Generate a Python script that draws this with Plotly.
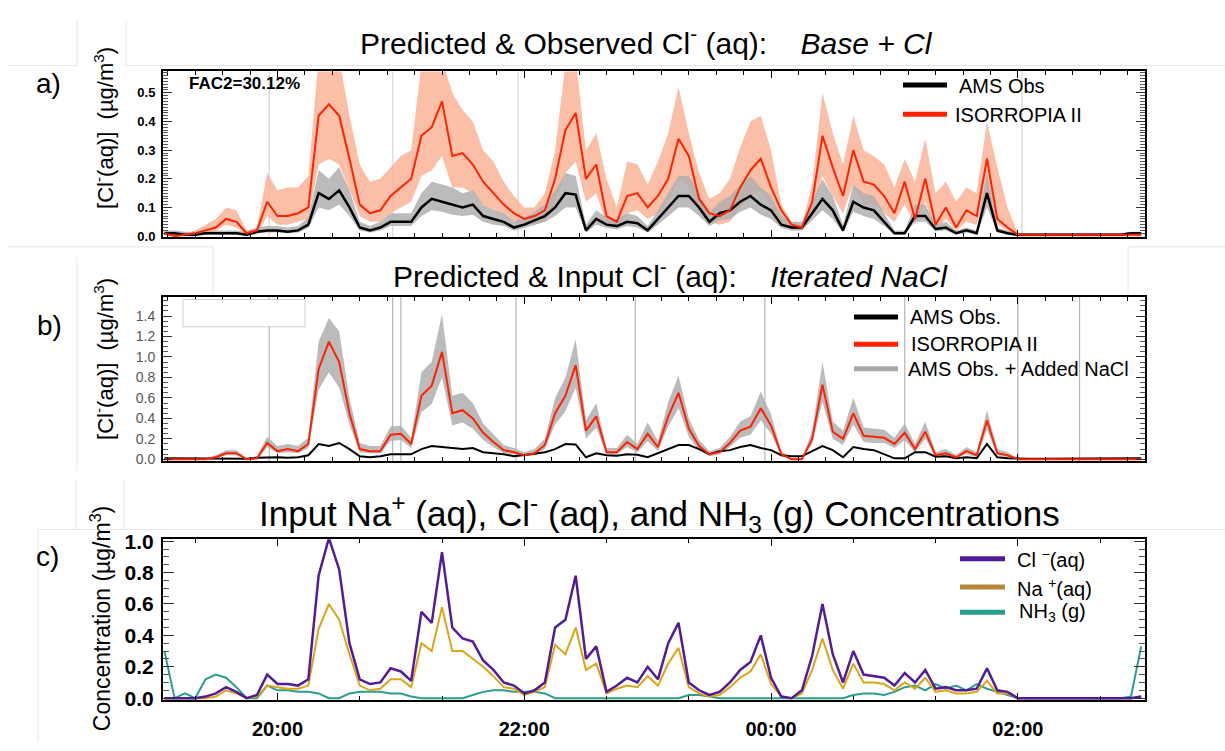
import pandas as pd
import plotly.graph_objects as go

# ---------------- data (5-minute grid starting 19:05) ----------------
t_start = "2000-01-01 19:05"
n_pts = 96
times = pd.date_range(t_start, periods=n_pts, freq="5min")

# Panel a: Base + Cl
obs_a = [0.01, 0.01, 0.005, 0.005, 0.01, 0.01, 0.01, 0.01, 0.005, 0.015, 0.02, 0.02,
         0.015, 0.02, 0.04, 0.15, 0.13, 0.16, 0.10, 0.03, 0.02, 0.03, 0.05, 0.05,
         0.05, 0.10, 0.13, 0.12, 0.11, 0.10, 0.11, 0.07, 0.06, 0.05, 0.03, 0.04,
         0.055, 0.07, 0.10, 0.15, 0.145, 0.02, 0.06, 0.04, 0.035, 0.05, 0.045, 0.02,
         0.06, 0.10, 0.14, 0.14, 0.10, 0.05, 0.08, 0.09, 0.12, 0.14, 0.11, 0.09,
         0.04, 0.03, 0.03, 0.08, 0.13, 0.09, 0.02, 0.12, 0.10, 0.09, 0.05, 0.01,
         0.01, 0.07, 0.07, 0.025, 0.03, 0.01, 0.02, 0.01, 0.15, 0.02, 0.01, 0.005,
         0.005, 0.005, 0.005, 0.005, 0.005, 0.005, 0.005, 0.005, 0.005, 0.005, 0.01, 0.01]
obs_a_hi = [0.02, 0.02, 0.015, 0.015, 0.02, 0.02, 0.02, 0.02, 0.015, 0.03, 0.035, 0.035,
            0.03, 0.035, 0.065, 0.23, 0.20, 0.24, 0.16, 0.05, 0.035, 0.05, 0.08, 0.08,
            0.08, 0.15, 0.19, 0.18, 0.17, 0.15, 0.16, 0.11, 0.09, 0.08, 0.05, 0.065,
            0.085, 0.11, 0.16, 0.22, 0.21, 0.04, 0.09, 0.065, 0.06, 0.08, 0.07, 0.035,
            0.09, 0.15, 0.21, 0.21, 0.15, 0.08, 0.12, 0.14, 0.18, 0.21, 0.17, 0.14,
            0.07, 0.05, 0.05, 0.12, 0.20, 0.14, 0.04, 0.18, 0.15, 0.14, 0.08, 0.02,
            0.02, 0.11, 0.11, 0.04, 0.05, 0.02, 0.03, 0.02, 0.22, 0.03, 0.02, 0.01,
            0.01, 0.01, 0.01, 0.01, 0.01, 0.01, 0.01, 0.01, 0.01, 0.01, 0.015, 0.015]
obs_a_lo = [0.005, 0.005, 0.0, 0.0, 0.005, 0.005, 0.005, 0.005, 0.0, 0.01, 0.013, 0.013,
            0.01, 0.013, 0.028, 0.10, 0.09, 0.11, 0.07, 0.02, 0.013, 0.02, 0.035, 0.035,
            0.035, 0.07, 0.09, 0.085, 0.075, 0.07, 0.075, 0.05, 0.04, 0.035, 0.02, 0.028,
            0.038, 0.05, 0.07, 0.10, 0.10, 0.013, 0.04, 0.028, 0.024, 0.035, 0.03, 0.013,
            0.04, 0.07, 0.10, 0.10, 0.07, 0.035, 0.055, 0.06, 0.085, 0.10, 0.075, 0.06,
            0.028, 0.02, 0.02, 0.055, 0.09, 0.06, 0.013, 0.085, 0.07, 0.06, 0.035, 0.005,
            0.005, 0.05, 0.05, 0.017, 0.02, 0.005, 0.013, 0.005, 0.10, 0.013, 0.005, 0.0,
            0.0, 0.0, 0.0, 0.0, 0.0, 0.0, 0.0, 0.0, 0.0, 0.0, 0.0, 0.0]
iso_a = [0.01, 0.0, 0.005, 0.01, 0.02, 0.03, 0.06, 0.05, 0.01, 0.02, 0.12, 0.07,
         0.07, 0.08, 0.10, 0.42, 0.46, 0.42, 0.27, 0.11, 0.08, 0.09, 0.14, 0.17,
         0.20, 0.35, 0.38, 0.47, 0.28, 0.29, 0.25, 0.19, 0.15, 0.11, 0.08, 0.06,
         0.07, 0.09, 0.20, 0.37, 0.43, 0.20, 0.25, 0.07, 0.05, 0.14, 0.15, 0.10,
         0.14, 0.20, 0.34, 0.28, 0.13, 0.08, 0.07, 0.09, 0.17, 0.23, 0.27, 0.17,
         0.09, 0.04, 0.03, 0.12, 0.35, 0.24, 0.14, 0.30, 0.19, 0.18, 0.14, 0.08,
         0.19, 0.06, 0.20, 0.04, 0.10, 0.03, 0.09, 0.07, 0.27, 0.06, 0.03, 0.005,
         0.005, 0.005, 0.005, 0.005, 0.005, 0.005, 0.005, 0.005, 0.005, 0.005, 0.005, 0.005]
iso_a_hi = [0.02, 0.01, 0.01, 0.02, 0.04, 0.06, 0.10, 0.09, 0.02, 0.03, 0.22, 0.16,
            0.17, 0.17, 0.21, 0.62, 0.65, 0.62, 0.42, 0.25, 0.19, 0.20, 0.24, 0.28,
            0.30, 0.60, 0.62, 0.62, 0.50, 0.44, 0.40, 0.30, 0.26, 0.19, 0.14, 0.10,
            0.10, 0.15, 0.30, 0.60, 0.62, 0.30, 0.36, 0.20, 0.10, 0.26, 0.25, 0.18,
            0.26, 0.36, 0.52, 0.36, 0.22, 0.13, 0.15, 0.20, 0.31, 0.40, 0.42, 0.30,
            0.11, 0.05, 0.04, 0.18, 0.50, 0.36, 0.25, 0.42, 0.30, 0.28, 0.25, 0.17,
            0.27, 0.19, 0.34, 0.15, 0.19, 0.12, 0.17, 0.15, 0.40, 0.24, 0.10, 0.01,
            0.01, 0.01, 0.01, 0.01, 0.01, 0.01, 0.01, 0.01, 0.01, 0.01, 0.01, 0.01]
iso_a_lo = [0.005, 0.0, 0.0, 0.005, 0.01, 0.02, 0.04, 0.03, 0.005, 0.005, 0.07, 0.04,
            0.04, 0.05, 0.06, 0.25, 0.27, 0.25, 0.16, 0.07, 0.05, 0.05, 0.08, 0.10,
            0.12, 0.21, 0.23, 0.28, 0.17, 0.17, 0.15, 0.11, 0.09, 0.07, 0.05, 0.04,
            0.04, 0.05, 0.12, 0.22, 0.26, 0.12, 0.15, 0.04, 0.03, 0.08, 0.09, 0.06,
            0.08, 0.12, 0.20, 0.17, 0.08, 0.05, 0.04, 0.05, 0.10, 0.14, 0.16, 0.10,
            0.05, 0.02, 0.02, 0.07, 0.21, 0.14, 0.08, 0.18, 0.11, 0.11, 0.08, 0.05,
            0.11, 0.04, 0.12, 0.02, 0.06, 0.02, 0.05, 0.04, 0.16, 0.04, 0.02, 0.0,
            0.0, 0.0, 0.0, 0.0, 0.0, 0.0, 0.0, 0.0, 0.0, 0.0, 0.0, 0.0]

# Panel b: Iterated NaCl (AMS obs. reused from panel a)
iso_b = [0.0, 0.0, 0.0, 0.0, 0.0, 0.02, 0.06, 0.06, 0.0, 0.01, 0.16, 0.08,
         0.10, 0.08, 0.15, 0.88, 1.15, 0.95, 0.45, 0.10, 0.08, 0.08, 0.24, 0.25,
         0.15, 0.62, 0.72, 1.05, 0.45, 0.48, 0.40, 0.26, 0.17, 0.09, 0.07, 0.04,
         0.06, 0.14, 0.45, 0.62, 0.92, 0.28, 0.42, 0.07, 0.07, 0.17, 0.10, 0.25,
         0.12, 0.42, 0.65, 0.30, 0.13, 0.05, 0.07, 0.16, 0.28, 0.32, 0.50, 0.33,
         0.05, 0.0, 0.0, 0.20, 0.73, 0.27, 0.20, 0.45, 0.23, 0.22, 0.21, 0.15,
         0.26, 0.10, 0.27, 0.04, 0.06, 0.02, 0.08, 0.04, 0.38, 0.06, 0.04, 0.0,
         0.0, 0.0, 0.0, 0.0, 0.0, 0.0, 0.0, 0.0, 0.0, 0.0, 0.0, 0.0]
nacl_b_hi = [0.01, 0.01, 0.01, 0.01, 0.01, 0.04, 0.09, 0.09, 0.01, 0.03, 0.22, 0.13,
             0.15, 0.13, 0.21, 1.15, 1.38, 1.25, 0.60, 0.16, 0.13, 0.13, 0.32, 0.33,
             0.21, 0.85, 0.95, 1.42, 0.62, 0.65, 0.55, 0.35, 0.24, 0.14, 0.11, 0.07,
             0.10, 0.20, 0.60, 0.80, 1.17, 0.38, 0.55, 0.11, 0.11, 0.24, 0.15, 0.36,
             0.18, 0.56, 0.82, 0.40, 0.19, 0.08, 0.11, 0.22, 0.37, 0.42, 0.66, 0.44,
             0.08, 0.01, 0.01, 0.28, 0.95, 0.37, 0.28, 0.60, 0.31, 0.30, 0.29, 0.21,
             0.35, 0.15, 0.37, 0.07, 0.10, 0.04, 0.12, 0.07, 0.48, 0.10, 0.07, 0.01,
             0.01, 0.01, 0.01, 0.01, 0.01, 0.01, 0.01, 0.01, 0.01, 0.01, 0.01, 0.01]
nacl_b_lo = [0.0, 0.0, 0.0, 0.0, 0.0, 0.01, 0.04, 0.04, 0.0, 0.0, 0.12, 0.06,
             0.07, 0.06, 0.11, 0.68, 0.85, 0.70, 0.34, 0.07, 0.06, 0.06, 0.18, 0.19,
             0.11, 0.46, 0.54, 0.80, 0.33, 0.36, 0.30, 0.19, 0.12, 0.06, 0.05, 0.03,
             0.04, 0.10, 0.34, 0.47, 0.70, 0.20, 0.31, 0.05, 0.05, 0.12, 0.07, 0.18,
             0.08, 0.32, 0.50, 0.22, 0.09, 0.03, 0.05, 0.12, 0.21, 0.24, 0.38, 0.25,
             0.03, 0.0, 0.0, 0.15, 0.56, 0.20, 0.14, 0.34, 0.17, 0.16, 0.16, 0.11,
             0.19, 0.07, 0.20, 0.02, 0.04, 0.01, 0.05, 0.02, 0.29, 0.04, 0.02, 0.0,
             0.0, 0.0, 0.0, 0.0, 0.0, 0.0, 0.0, 0.0, 0.0, 0.0, 0.0, 0.0]

# Panel c: inputs
cl_c = [0.0, 0.0, 0.0, 0.0, 0.01, 0.03, 0.07, 0.04, 0.0, 0.02, 0.15, 0.09,
        0.09, 0.08, 0.12, 0.78, 1.02, 0.82, 0.35, 0.12, 0.09, 0.10, 0.19, 0.17,
        0.11, 0.55, 0.48, 0.93, 0.45, 0.38, 0.36, 0.24, 0.18, 0.10, 0.08, 0.03,
        0.05, 0.10, 0.45, 0.50, 0.78, 0.25, 0.33, 0.04, 0.08, 0.13, 0.10, 0.20,
        0.12, 0.35, 0.48, 0.10, 0.05, 0.02, 0.04, 0.10, 0.18, 0.23, 0.40, 0.13,
        0.01, 0.0, 0.05, 0.27, 0.60, 0.28, 0.10, 0.30, 0.15, 0.14, 0.13, 0.08,
        0.16, 0.10, 0.18, 0.06, 0.07, 0.05, 0.05, 0.06, 0.19, 0.05, 0.04, 0.0,
        0.0, 0.0, 0.0, 0.0, 0.0, 0.0, 0.0, 0.0, 0.0, 0.0, 0.0, 0.01]
na_c = [0.0, 0.0, 0.0, 0.0, 0.0, 0.01, 0.05, 0.03, 0.0, 0.01, 0.08, 0.07,
        0.06, 0.06, 0.08, 0.44, 0.60, 0.50, 0.28, 0.08, 0.05, 0.06, 0.12, 0.12,
        0.07, 0.35, 0.30, 0.58, 0.30, 0.30, 0.25, 0.20, 0.14, 0.07, 0.06, 0.02,
        0.04, 0.07, 0.34, 0.28, 0.45, 0.18, 0.22, 0.03, 0.06, 0.08, 0.07, 0.14,
        0.08, 0.22, 0.32, 0.07, 0.03, 0.01, 0.02, 0.07, 0.13, 0.17, 0.28, 0.09,
        0.01, 0.0, 0.03, 0.18, 0.38, 0.18, 0.06, 0.22, 0.10, 0.10, 0.09, 0.05,
        0.10, 0.06, 0.13, 0.04, 0.05, 0.03, 0.03, 0.04, 0.11, 0.03, 0.03, 0.0,
        0.0, 0.0, 0.0, 0.0, 0.0, 0.0, 0.0, 0.0, 0.0, 0.0, 0.0, 0.01]
nh3_c = [0.30, 0.0, 0.03, 0.0, 0.12, 0.15, 0.13, 0.07, 0.0, 0.0, 0.08, 0.05,
         0.05, 0.04, 0.04, 0.03, 0.0, 0.0, 0.03, 0.04, 0.04, 0.04, 0.03, 0.03,
         0.01, 0.0, 0.0, 0.0, 0.0, 0.0, 0.02, 0.04, 0.05, 0.05, 0.04, 0.04,
         0.04, 0.03, 0.0, 0.0, 0.0, 0.0, 0.0, 0.0, 0.0, 0.0, 0.0, 0.0,
         0.0, 0.0, 0.0, 0.02, 0.02, 0.01, 0.0, 0.0, 0.0, 0.0, 0.0, 0.0,
         0.0, 0.0, 0.0, 0.0, 0.0, 0.0, 0.0, 0.02, 0.03, 0.03, 0.02, 0.04,
         0.07, 0.08, 0.05, 0.09, 0.06, 0.08, 0.05, 0.09, 0.06, 0.04, 0.02, 0.0,
         0.0, 0.0, 0.0, 0.0, 0.0, 0.0, 0.0, 0.0, 0.0, 0.0, 0.01, 0.33]

flag_times_a = ["2000-01-01 19:56", "2000-01-01 20:56", "2000-01-01 21:57", "2000-01-02 02:02"]
flag_times_b = ["2000-01-01 19:56", "2000-01-01 20:56", "2000-01-01 21:00", "2000-01-01 21:56",
                "2000-01-01 22:54", "2000-01-01 23:57", "2000-01-02 01:05", "2000-01-02 02:00",
                "2000-01-02 02:30"]
x_tick_vals = ["2000-01-01 20:00", "2000-01-01 22:00", "2000-01-02 00:00", "2000-01-02 02:00"]
x_tick_text = ["20:00", "22:00", "00:00", "02:00"]
x_range = ["2000-01-01 19:04:20", "2000-01-02 03:01:50"]

# ---------------- styling ----------------
W, H = 1225, 751
FONT = "Liberation Sans, Arial, Helvetica, sans-serif"
RED = "#ff2200"
SALMON = "rgba(249,180,150,0.85)"
GRAYBAND = "rgba(175,175,175,0.85)"
PURPLE = "#521c98"
GOLD = "#dca515"
TEAL = "#2a9d8f"


def px(x):
    return x / W


def py(y):
    return 1 - y / H


fig = go.Figure()


def band(lo, hi, color, xa, ya):
    fig.add_trace(go.Scatter(x=times, y=lo, mode="lines", line=dict(width=0), hoverinfo="skip",
                             showlegend=False, xaxis=xa, yaxis=ya))
    fig.add_trace(go.Scatter(x=times, y=hi, mode="lines", line=dict(width=0), fill="tonexty",
                             fillcolor=color, hoverinfo="skip", showlegend=False, xaxis=xa, yaxis=ya))


def line(y, color, width, xa, ya):
    fig.add_trace(go.Scatter(x=times, y=y, mode="lines", line=dict(color=color, width=width),
                             showlegend=False, xaxis=xa, yaxis=ya))


# panel a
band(iso_a_lo, iso_a_hi, SALMON, "x", "y")
band(obs_a_lo, obs_a_hi, GRAYBAND, "x", "y")
line(obs_a, "black", 2.5, "x", "y")
line(iso_a, RED, 2, "x", "y")
# panel b
band(nacl_b_lo, nacl_b_hi, GRAYBAND, "x2", "y2")
line(obs_a, "black", 2, "x2", "y2")
line(iso_b, RED, 2, "x2", "y2")
# panel c
line(nh3_c, TEAL, 2, "x3", "y3")
line(na_c, GOLD, 2, "x3", "y3")
line(cl_c, PURPLE, 2.5, "x3", "y3")

xdom = [px(163), px(1145)]


def xaxis(show_labels, minor_dtick, anchor):
    return dict(domain=xdom, range=x_range, type="date", anchor=anchor,
                showline=True, mirror="ticks", linecolor="black", linewidth=2,
                ticks="inside", ticklen=7, tickwidth=1, tickcolor="black",
                tickvals=x_tick_vals, ticktext=x_tick_text, showticklabels=show_labels,
                tickfont=dict(family=FONT, size=20, color="black", weight="bold"),
                ticklabelstandoff=10,
                showgrid=False, zeroline=False,
                minor=dict(ticks="inside", ticklen=4, tickcolor="black", dtick=minor_dtick,
                           tick0="2000-01-01 20:00", showgrid=False))


def yaxis(dom, rng, vals, minor_dtick, tsize, tcolor, bold, anchor, majlen, minlen):
    return dict(domain=dom, range=rng, anchor=anchor, showline=True, mirror="ticks",
                linecolor="black", linewidth=2, ticks="inside", ticklen=majlen, tickwidth=1,
                tickcolor="#333", tickvals=vals, tickformat=".1f",
                tickfont=dict(family=FONT, size=tsize, color=tcolor,
                              weight="bold" if bold else "normal"),
                showgrid=False, zeroline=False, ticklabelstandoff=3,
                minor=dict(ticks="inside", ticklen=minlen, tickcolor="#555", dtick=minor_dtick,
                           tick0=0, showgrid=False))


fig.update_layout(
    width=W, height=H, margin=dict(l=0, r=0, t=0, b=0),
    paper_bgcolor="white", plot_bgcolor="white", showlegend=False,
    font=dict(family=FONT, color="black"),
    xaxis=xaxis(False, 800000, "y"),
    xaxis2=xaxis(False, 800000, "y2"),
    xaxis3=xaxis(True, 2400000, "y3"),
    yaxis=yaxis([py(233), py(63)], [-0.0034, 0.5748], [0, 0.1, 0.2, 0.3, 0.4, 0.5],
                0.01, 13, "black", True, "x", 9, 5),
    yaxis2=yaxis([py(463), py(294)], [-0.019, 1.590], [0, 0.2, 0.4, 0.6, 0.8, 1.0, 1.2, 1.4],
                 0.05, 14, "#555", False, "x2", 9, 5),
    yaxis3=yaxis([py(708), py(543)], [-0.0124, 1.0124], [0, 0.2, 0.4, 0.6, 0.8, 1.0],
                 0.05, 21, "black", True, "x3", 11, 6),
)

shapes = []
# flag lines
for t in flag_times_a:
    shapes.append(dict(type="line", xref="x", yref="y domain", x0=t, x1=t, y0=0, y1=1,
                       line=dict(color="#dcdcdc", width=1.5), layer="below"))
for t in flag_times_b:
    shapes.append(dict(type="line", xref="x2", yref="y2 domain", x0=t, x1=t, y0=0, y1=1,
                       line=dict(color="#b5b5b5", width=1.2), layer="below"))
# empty box in panel b
shapes.append(dict(type="rect", xref="paper", yref="paper", x0=px(183), x1=px(305),
                   y0=py(325), y1=py(297), fillcolor="white", line=dict(color="#cfcfcf", width=1),
                   layer="above"))
# faint composition borders
faint = dict(color="#e6e6e6", width=1)
for (x0, y0, x1, y1) in [(77, 10, 77, 57), (126, 12, 126, 57), (8, 57, 77, 57), (126, 57, 1225, 57),
                         (8, 243, 213, 243), (213, 243, 213, 293), (77, 253, 77, 473),
                         (1128, 243, 1128, 293), (1128, 243, 1225, 243),
                         (76, 483, 76, 533), (124, 483, 124, 533), (38, 533, 1225, 533),
                         (38, 533, 38, 751)]:
    shapes.append(dict(type="line", xref="paper", yref="paper", x0=px(x0), x1=px(x1),
                       y0=py(y0), y1=py(y1), line=faint, layer="below"))

# legend samples
for (x0, x1, y, c) in [(903, 947, 77, "black"), (903, 947, 107, RED),
                       (854, 898, 315, "black"), (854, 898, 343, RED), (854, 898, 368, "#a8a8a8"),
                       (960, 1005, 563, PURPLE), (960, 1005, 592, "#b8873c"), (960, 1005, 618, TEAL)]:
    shapes.append(dict(type="line", xref="paper", yref="paper", x0=px(x0), x1=px(x1),
                       y0=py(y), y1=py(y), line=dict(color=c, width=5)))
fig.update_layout(shapes=shapes)

ann = []


def text(x, y, s, size, xanchor="left", angle=0, italic=False, bold=False, color="black"):
    ann.append(dict(x=px(x), y=py(y), xref="paper", yref="paper", text=s, showarrow=False,
                    xanchor=xanchor, yanchor="middle", textangle=angle,
                    font=dict(family=FONT, size=size, color=color,
                              style="italic" if italic else "normal",
                              weight="bold" if bold else "normal")))


# titles
text(646, 32, "Predicted &amp; Observed Cl<sup>-</sup> (aq):    <i>Base + Cl</i>", 30, "center")
text(670, 271, "Predicted &amp; Input Cl<sup>-</sup> (aq):    <i>Iterated NaCl</i>", 30, "center")
text(659, 517, "Input Na<sup>+</sup> (aq), Cl<sup>-</sup> (aq), and NH<sub>3</sub> (g) Concentrations", 35, "center")
# panel letters
text(48, 75, "a)", 28, "center")
text(49, 324, "b)", 28, "center")
text(47, 561, "c)", 28, "center")
# y titles
text(104, 121, "[Cl<sup>-</sup>(aq)]  (µg/m<sup>3</sup>)", 22, "center", angle=-90)
text(104, 358, "[Cl<sup>-</sup>(aq)]  (µg/m<sup>3</sup>)", 22, "center", angle=-90)
text(101, 625, "Concentration (µg/m<sup>3</sup>)", 23, "center", angle=-90)
# FAC2
text(187, 75, "FAC2=30.12%", 17, "left", bold=True)
# legends
text(957, 78, "AMS Obs", 20)
text(953, 108, "ISORROPIA II", 20)
text(908, 315, "AMS Obs.", 20)
text(909, 343, "ISORROPIA II", 20)
text(906, 368, "AMS Obs. + Added NaCl", 20)
text(1015, 563, "Cl <sup>−</sup>(aq)", 20)
text(1015, 592, "Na <sup>+</sup>(aq)", 20)
text(1017, 618, "NH<sub>3</sub> (g)", 20)
fig.update_layout(annotations=ann)

fig.write_html("out.html")
